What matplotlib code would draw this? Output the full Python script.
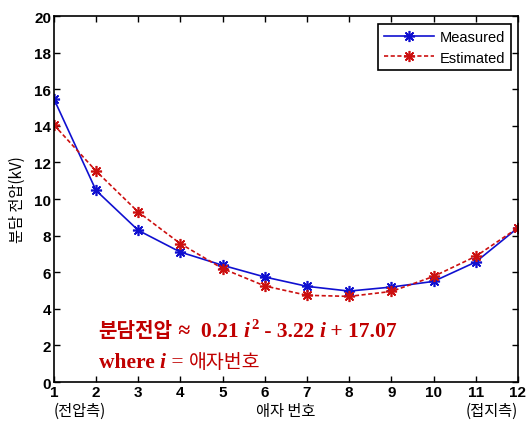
import matplotlib
matplotlib.use('Agg')
import matplotlib.pyplot as plt
from matplotlib.transforms import offset_copy

# 데이터
insulator = [1, 2, 3, 4, 5, 6, 7, 8, 9, 10, 11, 12]
measured = [15.48, 10.47, 8.29, 7.10, 6.38, 5.74, 5.23, 4.97, 5.19, 5.50, 6.56, 8.43]
estimated = [14.06, 11.53, 9.29, 7.56, 6.20, 5.25, 4.74, 4.68, 4.95, 5.77, 6.87, 8.43]
y_ticks = [0, 2, 4, 6, 8, 10, 12, 14, 16, 18, 20]

kr = ['Noto Sans CJK KR', 'DejaVu Sans']
red = '#c00000'
star = (8, 2, 0)

fig = plt.figure(figsize=(5.28, 4.27), dpi=100)
ax = fig.add_axes([0.102, 0.103, 0.879, 0.857])

ax.plot(insulator, measured, '-', color='#1010d0', lw=1.2, marker=star, ms=8,
        mew=1.2, label='Measured')
ax.plot(insulator, estimated, '--', color='#cc1010', lw=1.2, marker=star, ms=8,
        mew=1.2, label='Estimated', dashes=(2.5, 1.5))

ax.set_xlim(1, 12)
ax.set_ylim(0, 20)
ax.set_xticks(insulator)
ax.set_yticks(y_ticks)
ax.tick_params(direction='in', top=True, right=True, length=4, width=1, pad=2)
for lab in ax.get_xticklabels() + ax.get_yticklabels():
    lab.set_fontfamily('Liberation Sans')
    lab.set_fontweight('bold')
    lab.set_fontsize(11)
for s in ax.spines.values():
    s.set_linewidth(1.2)

ax.set_ylabel('분담 전압(kV)', family=kr, fontsize=11, labelpad=6)

# x축 아래 두번째 줄
ax.text(1, -1.1, '(전압측)', family=kr, fontsize=11, ha='left', va='top')
ax.text(6.5, -1.1, '애자 번호', family=kr, fontsize=11, ha='center', va='top')
ax.text(12, -1.1, '(접지측)', family=kr, fontsize=11, ha='right', va='top')

leg = ax.legend(loc='upper right', fontsize=10.5, fancybox=False, framealpha=1,
                edgecolor='black', handlelength=3.4, borderpad=0.4,
                labelspacing=0.45, numpoints=1, handletextpad=0.4,
                bbox_to_anchor=(0.985, 0.978), borderaxespad=0)
leg.get_frame().set_linewidth(1.2)
for t in leg.get_texts():
    t.set_fontfamily('Liberation Sans')

# 수식 텍스트 조각 이어 붙이기
renderer = fig.canvas.get_renderer()


def pieces(x, y, parts):
    trans = ax.transData
    for txt, kw in parts:
        kw = dict(kw)
        dy = kw.pop('dy', 0)
        t = ax.text(x, y, txt, color=red, va='baseline',
                    transform=offset_copy(trans, fig=fig, y=dy, units='points'), **kw)
        w = t.get_window_extent(renderer=renderer).width
        trans = offset_copy(trans, fig=fig, x=w * 72 / fig.dpi, units='points')


serif = dict(family='Liberation Serif', fontsize=15.5, fontweight='bold')
serif_i = dict(family='Liberation Serif', fontsize=15.5, fontweight='bold', style='italic')
pieces(2.06, 2.5, [
    ('분담전압', dict(family=kr, fontsize=14.5, fontweight='black')),
    (' ≈  0.21 ', serif),
    ('i', serif_i),
    (' ', dict(family='Liberation Serif', fontsize=5)),
    ('2', dict(family='Liberation Serif', fontsize=10.5, fontweight='bold', dy=6)),
    (' - 3.22 ', serif),
    ('i', serif_i),
    (' + 17.07', serif),
])
pieces(2.06, 0.8, [
    ('where ', serif),
    ('i', serif_i),
    (' = ', dict(family='Liberation Serif', fontsize=15.5)),
    ('애자번호', dict(family=kr, fontsize=14, fontweight='light')),
])

fig.savefig('out.png', dpi=100)
